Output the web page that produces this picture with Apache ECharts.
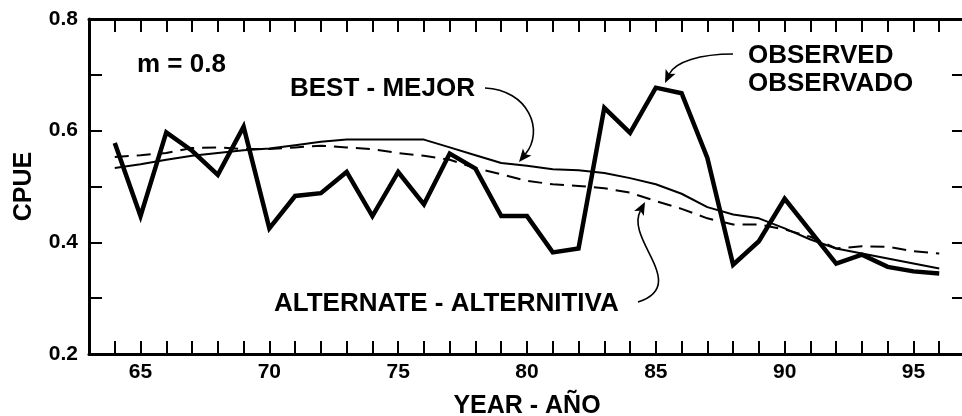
<!DOCTYPE html>
<html>
<head>
<meta charset="utf-8">
<script src="https://cdn.jsdelivr.net/npm/echarts@6/dist/echarts.min.js"></script>
<style>
  html, body { margin: 0; padding: 0; background: #fff; }
  #chart { width: 962px; height: 416px; }
</style>
</head>
<body>
<div id="chart"></div>
<script>
// years 1964 - 1996 (two digit, as on the axis)
const years = [64, 65, 66, 67, 68, 69, 70, 71, 72, 73, 74, 75, 76, 77, 78, 79, 80,
  81, 82, 83, 84, 85, 86, 87, 88, 89, 90, 91, 92, 93, 94, 95, 96];

const observed = [0.578, 0.447, 0.597, 0.564, 0.521, 0.607, 0.425, 0.483, 0.488, 0.526,
  0.447, 0.526, 0.468, 0.559, 0.532, 0.447, 0.447, 0.382, 0.389, 0.641, 0.596, 0.677,
  0.667, 0.551, 0.36, 0.402, 0.478, 0.42, 0.362, 0.378, 0.356, 0.348, 0.344];

const best = [0.533, 0.54, 0.548, 0.555, 0.56, 0.565, 0.568, 0.574, 0.58, 0.584, 0.584,
  0.584, 0.584, 0.57, 0.556, 0.542, 0.537, 0.531, 0.529, 0.524, 0.515, 0.504, 0.487,
  0.463, 0.45, 0.443, 0.425, 0.405, 0.389, 0.38, 0.371, 0.362, 0.353];

const alternate = [0.553, 0.556, 0.56, 0.569, 0.57, 0.567, 0.567, 0.57, 0.573, 0.57,
  0.567, 0.56, 0.555, 0.548, 0.533, 0.522, 0.51, 0.504, 0.501, 0.497, 0.489, 0.474,
  0.46, 0.443, 0.432, 0.432, 0.423, 0.41, 0.389, 0.393, 0.392, 0.384, 0.38];

const xLabels = [65, 70, 75, 80, 85, 90, 95];
const yLabels = [0.2, 0.4, 0.6, 0.8];

const FONT = '"Liberation Sans", Arial, sans-serif';

const chart = echarts.init(document.getElementById("chart"));

function pair(vals) {
  return years.map((y, i) => [y, vals[i]]);
}

// curved arrow: bezier + filled head at the end
function arrow(x1, y1, c1x, c1y, c2x, c2y, x2, y2) {
  let dx = x2 - c2x, dy = y2 - c2y;
  let len = Math.sqrt(dx * dx + dy * dy);
  dx /= len; dy /= len;
  let hl = 13, hw = 5.5;
  let bx = x2 - dx * hl, by = y2 - dy * hl;
  return [
    {
      type: "bezierCurve",
      shape: { x1: x1, y1: y1, cpx1: c1x, cpy1: c1y, cpx2: c2x, cpy2: c2y,
        x2: bx + dx * 3, y2: by + dy * 3 },
      style: { stroke: "#000", lineWidth: 1.6, fill: null },
    },
    {
      type: "polygon",
      shape: { points: [[x2, y2], [bx - dy * hw, by + dx * hw], [bx + dx * 3, by + dy * 3], [bx + dy * hw, by - dx * hw]] },
      style: { fill: "#000" },
    },
  ];
}

function label(text, x, y, size) {
  return {
    type: "text",
    x: x,
    y: y,
    style: {
      text: text,
      font: "bold " + (size || 26) + "px " + FONT,
      fill: "#000",
      textAlign: "left",
      textVerticalAlign: "middle",
    },
  };
}

const xAxisBase = {
  type: "value",
  min: 63,
  max: 97,
  interval: 1,
  axisLine: { show: true, onZero: false, lineStyle: { color: "#000", width: 3 } },
  axisTick: { show: true, inside: true, length: 13, lineStyle: { color: "#000", width: 2 } },
  splitLine: { show: false },
};

const yAxisBase = {
  type: "value",
  min: 0.2,
  max: 0.8,
  interval: 0.1,
  axisLine: { show: true, onZero: false, lineStyle: { color: "#000", width: 3 } },
  axisTick: { show: true, inside: true, length: 13, lineStyle: { color: "#000", width: 2 } },
  splitLine: { show: false },
};

chart.setOption({
  backgroundColor: "#fff",
  animation: false,
  grid: { left: 89, top: 19, width: 876, height: 335, containLabel: false, outerBoundsMode: "none" },
  xAxis: [
    {
      ...xAxisBase,
      position: "bottom",
      name: "YEAR - AÑO",
      nameLocation: "middle",
      nameGap: 40,
      nameTextStyle: { fontFamily: FONT, fontWeight: "bold", fontSize: 25, color: "#000" },
      axisLabel: {
        margin: 8,
        fontFamily: FONT,
        fontWeight: "bold",
        fontSize: 21,
        color: "#000",
        formatter: (v) => (xLabels.indexOf(v) >= 0 ? String(v) : ""),
      },
    },
    { ...xAxisBase, position: "top", axisLabel: { show: false } },
  ],
  yAxis: [
    {
      ...yAxisBase,
      position: "left",
      name: "CPUE",
      nameLocation: "middle",
      nameRotate: 90,
      nameGap: 52,
      nameTextStyle: { fontFamily: FONT, fontWeight: "bold", fontSize: 25, color: "#000" },
      axisLabel: {
        margin: 11,
        fontFamily: FONT,
        fontWeight: "bold",
        fontSize: 21,
        color: "#000",
        formatter: (v) => {
          let r = Math.round(v * 10) / 10;
          return yLabels.indexOf(r) >= 0 ? r.toFixed(1) : "";
        },
      },
    },
    { ...yAxisBase, position: "right", axisLabel: { show: false } },
  ],
  series: [
    {
      name: "ALTERNATE - ALTERNITIVA",
      type: "line",
      data: pair(alternate),
      showSymbol: false,
      lineStyle: { color: "#000", width: 2, type: [14, 8] },
    },
    {
      name: "BEST - MEJOR",
      type: "line",
      data: pair(best),
      showSymbol: false,
      lineStyle: { color: "#000", width: 2 },
    },
    {
      name: "OBSERVED - OBSERVADO",
      type: "line",
      data: pair(observed),
      showSymbol: false,
      lineStyle: { color: "#000", width: 4.5, join: "miter" },
    },
  ],
  graphic: [
    label("m = 0.8", 137, 65),
    label("BEST - MEJOR", 290, 89),
    label("OBSERVED", 748, 56),
    label("OBSERVADO", 748, 84),
    label("ALTERNATE - ALTERNITIVA", 274, 304),
    ...arrow(485, 88, 528, 90, 545, 130, 519, 162),
    ...arrow(733, 54, 700, 54, 675, 62, 665, 83),
    ...arrow(638, 302, 690, 285, 625, 240, 645, 202),
  ],
});
</script>
</body>
</html>
